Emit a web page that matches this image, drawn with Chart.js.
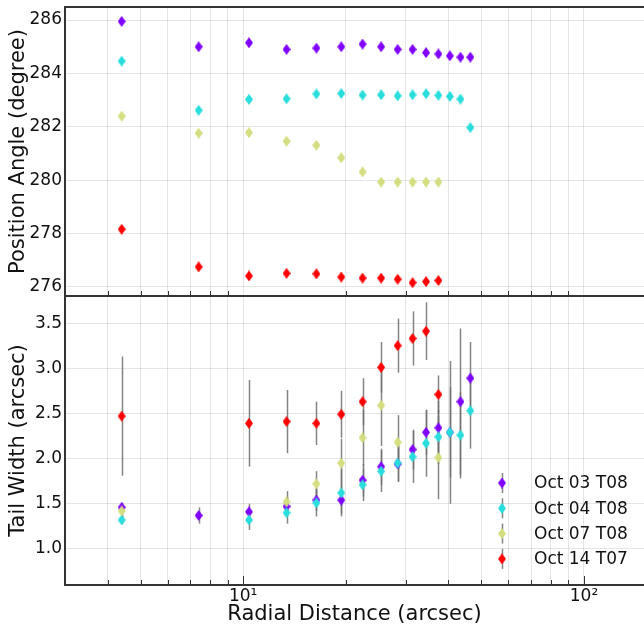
<!DOCTYPE html>
<html>
<head>
<meta charset="utf-8">
<script src="https://cdn.jsdelivr.net/npm/chart.js@4.4.1/dist/chart.umd.min.js"></script>
<style>
    html, body { margin: 0; padding: 0; background: #fff; overflow: hidden; }
    #wrap { position: relative; width: 644px; height: 629px; overflow: hidden; }
    canvas { position: absolute; left: 0; top: 0; }
</style>
</head>
<body>
<div id="wrap">
    <canvas id="angleChart" width="650" height="629"></canvas>
    <canvas id="widthChart" width="650" height="629"></canvas>
</div>
<script>
// Radial distance of each sample (arcsec)
const radius = [4.4, 7.4, 10.4, 13.4, 16.4, 19.4, 22.4, 25.4, 28.4, 31.4, 34.4, 37.4, 40.4, 43.4, 46.4];

const labels = ["Oct 03 T08", "Oct 04 T08", "Oct 07 T08", "Oct 14 T07"];
const colors = ["#8000ff", "#2adddd", "#d4dd80", "#ff0000"];

// Position angle (degree)
const angle0308 = [285.95, 285.00, 285.15, 284.90, 284.95, 285.00, 285.10, 285.00, 284.90, 284.90, 284.78, 284.73, 284.66, 284.61, 284.61];
const angle0408 = [284.46, 282.62, 283.03, 283.05, 283.23, 283.25, 283.19, 283.20, 283.16, 283.20, 283.24, 283.18, 283.14, 283.04, 281.97];
const angle0708 = [282.40, 281.76, 281.78, 281.46, 281.31, 280.84, 280.31, 279.93, 279.93, 279.93, 279.93, 279.93, null, null, null];
const angle1407 = [278.16, 276.75, 276.41, 276.51, 276.49, 276.37, 276.33, 276.33, 276.29, 276.16, 276.20, 276.24, null, null, null];

// Tail width (arcsec) and its errors
const width0308 = [1.46, 1.37, 1.41, 1.47, 1.54, 1.54, 1.76, 1.91, 1.94, 2.10, 2.29, 2.34, 2.29, 2.63, 2.89];
const err0308   = [0.05, 0.09, 0.09, 0.10, 0.12, 0.15, 0.18, 0.20, 0.20, 0.22, 0.25, 0.30, 0.50, 0.81, 0.40];
const width0408 = [1.32, null, 1.32, 1.40, 1.51, 1.62, 1.71, 1.86, 1.95, 2.02, 2.17, 2.24, 2.29, 2.26, 2.53];
const err0408   = [0.04, null, 0.11, 0.12, 0.15, 0.26, 0.18, 0.23, 0.20, 0.29, 0.37, 0.30, 0.79, 0.48, 0.42];
const width0708 = [1.42, null, null, 1.52, 1.72, 1.95, 2.23, 2.59, 2.18, null, null, 2.01, null, null, null];
const err0708   = [0.08, null, null, 0.12, 0.14, 0.27, 0.31, 0.45, 0.30, null, null, 0.46, null, null, null];
const width1407 = [2.47, null, 2.39, 2.41, 2.39, 2.49, 2.63, 3.01, 3.25, 3.33, 3.41, 2.71, null, null, null];
const err1407   = [0.66, null, 0.48, 0.35, 0.24, 0.26, 0.26, 0.28, 0.30, 0.30, 0.32, 0.21, null, null, null];

// Axis ticks
const xTicks = [3, 4, 5, 6, 7, 8, 9, 10, 20, 30, 40, 50, 60, 70, 80, 90, 100];
const xMajor = [10, 100];
const angleTicks = [276, 278, 280, 282, 284, 286];
const widthTicks = [1.0, 1.5, 2.0, 2.5, 3.0, 3.5];

const FONT = "'DejaVu Sans', sans-serif";

// thin diamond marker like matplotlib 'd'
function diamond(color) {
    let c = document.createElement("canvas");
    c.width = 8; c.height = 11;
    let g = c.getContext("2d");
    g.beginPath();
    g.moveTo(4, 0); g.lineTo(8, 5.5); g.lineTo(4, 11); g.lineTo(0, 5.5);
    g.closePath();
    g.fillStyle = color;
    g.fill();
    return c;
}
const markers = colors.map(diamond);

function toPoints(ys, errs) {
    let pts = [];
    ys.forEach((v, i) => {
        if (v === null) return;
        pts.push({ x: radius[i], y: v, err: errs ? errs[i] : null });
    });
    return pts;
}

function makeDatasets(series, errs) {
    return series.map((s, i) => ({
        label: labels[i],
        data: toPoints(s, errs ? errs[i] : null),
        pointStyle: markers[i],
        pointRadius: 5,
        pointHoverRadius: 5,
        backgroundColor: colors[i],
        borderColor: colors[i],
        showLine: false,
        order: 3 - i
    }));
}

// error bars drawn behind the markers
const errorBars = {
    id: "errorBars",
    beforeDatasetsDraw(chart) {
        const { ctx, scales: { x, y } } = chart;
        ctx.save();
        ctx.strokeStyle = "rgba(110,110,110,0.85)";
        ctx.lineWidth = 1.5;
        chart.data.datasets.forEach(ds => {
            ds.data.forEach(p => {
                if (p.err === null || p.err === undefined) return;
                let px = Math.round(x.getPixelForValue(p.x)) + 0.5;
                ctx.beginPath();
                ctx.moveTo(px, y.getPixelForValue(p.y - p.err));
                ctx.lineTo(px, y.getPixelForValue(p.y + p.err));
                ctx.stroke();
            });
        });
        ctx.restore();
    }
};

// frame (left, top, bottom) and inward ticks
function framePlugin(majorTicks) {
    return {
        id: "frame",
        afterDraw(chart) {
            const { ctx, chartArea: a, scales: { x } } = chart;
            ctx.save();
            ctx.strokeStyle = "#333";
            ctx.lineWidth = 1;
            xTicks.forEach(t => {
                let major = xMajor.includes(t);
                if (major && !majorTicks) return;
                let px = Math.round(x.getPixelForValue(t)) + 0.5;
                ctx.beginPath();
                ctx.moveTo(px, a.bottom);
                ctx.lineTo(px, a.bottom - (major ? 9 : 5));
                ctx.stroke();
            });
            ctx.lineWidth = 2;
            ctx.beginPath();
            ctx.moveTo(a.right + 10, a.top);
            ctx.lineTo(a.left, a.top);
            ctx.lineTo(a.left, a.bottom);
            ctx.lineTo(a.right + 10, a.bottom);
            ctx.stroke();
            ctx.restore();
        }
    };
}

// legend inside the lower panel
const legendBox = {
    id: "legendBox",
    afterDraw(chart) {
        const ctx = chart.ctx;
        ctx.save();
        ctx.font = "17px " + FONT;
        ctx.textBaseline = "middle";
        ctx.fillStyle = "#111";
        labels.forEach((lab, i) => {
            let y = 483 + i * 25.3;
            ctx.strokeStyle = "rgba(110,110,110,0.85)";
            ctx.lineWidth = 1.5;
            ctx.beginPath();
            ctx.moveTo(502.5, y - 10);
            ctx.lineTo(502.5, y + 10);
            ctx.stroke();
            ctx.drawImage(markers[i], 502 - 4, y - 5.5);
            ctx.fillText(lab, 534, y + 1);
        });
        ctx.restore();
    }
};

const gridColor = "rgba(0,0,0,0.1)";

function xScale(showLabels, title) {
    return {
        type: "logarithmic",
        min: 3,
        max: 150,
        afterBuildTicks: s => { s.ticks = xTicks.map(v => ({ value: v, major: xMajor.includes(v) })); },
        afterFit: s => { s.height = showLabels ? 44 : 0; s.paddingLeft = 0; s.paddingRight = 0; },
        grid: { color: gridColor, drawTicks: false, drawOnChartArea: true },
        border: { display: false },
        ticks: {
            display: showLabels,
            autoSkip: false,
            maxRotation: 0,
            padding: 1,
            color: "#111",
            font: { family: FONT, size: 17 },
            callback: v => v === 10 ? "10\u00b9" : (v === 100 ? "10\u00b2" : "")
        },
        title: {
            display: !!title,
            text: title,
            color: "#111",
            font: { family: FONT, size: 21 },
            padding: { top: 0, bottom: 2 }
        }
    };
}

function yScale(min, max, ticks, title, digits) {
    return {
        min: min,
        max: max,
        afterBuildTicks: s => { s.ticks = ticks.map(v => ({ value: v })); },
        afterFit: s => { s.width = 65; s.paddingTop = 0; s.paddingBottom = 0; },
        grid: { color: gridColor, drawTicks: false },
        border: { display: false },
        ticks: {
            padding: 3,
            color: "#111",
            font: { family: FONT, size: 17 },
            callback: v => Number(v).toFixed(digits)
        },
        title: {
            display: true,
            text: title,
            color: "#111",
            font: { family: FONT, size: 21 },
            padding: { top: 6, bottom: 0 }
        }
    };
}

const commonPlugins = {
    legend: { display: false },
    tooltip: { enabled: false }
};

new Chart(document.getElementById("angleChart"), {
    type: "scatter",
    data: { datasets: makeDatasets([angle0308, angle0408, angle0708, angle1407]) },
    options: {
        responsive: false,
        animation: false,
        layout: { padding: { top: 7, right: 1, bottom: 333, left: 0 } },
        scales: {
            x: xScale(false, ""),
            y: yScale(275.66, 286.49, angleTicks, "Position Angle (degree)", 0)
        },
        plugins: commonPlugins
    },
    plugins: [framePlugin(false)]
});

new Chart(document.getElementById("widthChart"), {
    type: "scatter",
    data: {
        datasets: makeDatasets([width0308, width0408, width0708, width1407],
                               [err0308, err0408, err0708, err1407])
    },
    options: {
        responsive: false,
        animation: false,
        layout: { padding: { top: 296, right: 1, bottom: 0, left: 0 } },
        scales: {
            x: xScale(true, "Radial Distance (arcsec)"),
            y: yScale(0.6, 3.8, widthTicks, "Tail Width (arcsec)", 1)
        },
        plugins: commonPlugins
    },
    plugins: [errorBars, framePlugin(true), legendBox]
});
</script>
</body>
</html>
